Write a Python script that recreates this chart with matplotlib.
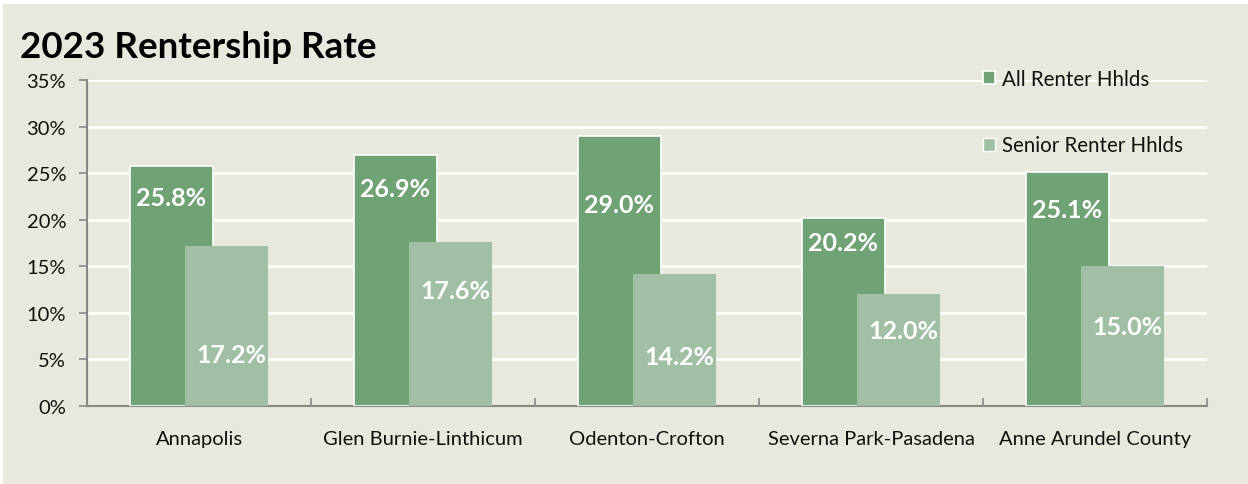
import matplotlib
matplotlib.use("Agg")
import matplotlib.pyplot as plt
from matplotlib.patches import Rectangle
import numpy as np

categories = ["Annapolis", "Glen Burnie-Linthicum", "Odenton-Crofton",
              "Severna Park-Pasadena", "Anne Arundel County"]
all_renter = [25.8, 26.9, 29.0, 20.2, 25.1]
senior_renter = [17.2, 17.6, 14.2, 12.0, 15.0]
series_names = ["All Renter Hhlds", "Senior Renter Hhlds"]
yticks = [0, 5, 10, 15, 20, 25, 30, 35]
title = "2023 Rentership Rate"

# label positions (y in data units, manually placed as in original)
all_label_y = [22.4, 23.3, 21.6, 17.6, 21.1]
senior_label_y = [5.5, 12.4, 5.3, 8.1, 8.5]

plt.rcParams['font.family'] = ['Lato', 'DejaVu Sans']

BG = "#E9E8DE"
DARK = "#6FA275"
LIGHT = "#A1BFA5"
TXT = "#111111"

fig = plt.figure(figsize=(12.48, 4.85), dpi=100, facecolor="white")
fig.patches.append(Rectangle((3/1248, 0), 1 - 3/1248, 1 - 5/485,
                             transform=fig.transFigure, facecolor=BG,
                             edgecolor="none", zorder=-10))

ax = fig.add_axes([87/1248, 1 - 407/485, (1207 - 87)/1248, (407 - 81)/485])
ax.set_facecolor(BG)

x = np.arange(len(categories))
w = 0.37
off = 0.123
ax.bar(x - off, all_renter, width=w, color=DARK, edgecolor="white",
       linewidth=1.2, zorder=3, label=series_names[0])
ax.bar(x + off, senior_renter, width=w, color=LIGHT, edgecolor="none",
       zorder=4, label=series_names[1])

for i in range(len(categories)):
    ax.text(x[i] - off, all_label_y[i], f"{all_renter[i]:.1f}%", color="white",
            fontsize=18, fontweight="bold", ha="center", va="center", zorder=6)
    ax.text(x[i] + off + 0.02, senior_label_y[i], f"{senior_renter[i]:.1f}%",
            color="white", fontsize=18, fontweight="bold", ha="center",
            va="center", zorder=6)

ax.set_xlim(-0.5, len(categories) - 0.5)
ax.set_ylim(0, 35)
ax.set_yticks(yticks)
ax.set_yticklabels([f"{t}%" for t in yticks], fontsize=14.5, color=TXT)
ax.yaxis.grid(True, color="white", linewidth=2, zorder=0)
ax.set_axisbelow(True)

ax.set_xticks(np.arange(len(categories) + 1) - 0.5)
ax.set_xticklabels([])
ax.tick_params(axis="x", which="major", direction="in", length=6,
               color="#888888", width=1.2)
ax.set_xticks(x, minor=True)
ax.set_xticklabels(categories, minor=True, fontsize=14.5, color=TXT)
ax.tick_params(axis="x", which="minor", length=0, pad=17)
ax.tick_params(axis="y", direction="out", length=6, color="#888888",
               width=1.2, pad=9)

for s in ["top", "right"]:
    ax.spines[s].set_visible(False)
for s in ["left", "bottom"]:
    ax.spines[s].set_color("#888888")
    ax.spines[s].set_linewidth(1.5)

fig.text(20/1248, 1 - 47/485, title, fontsize=26.5, fontweight="bold",
         ha="left", va="center", color="black")

leg = ax.legend(loc="upper left", bbox_to_anchor=((964 - 87)/(1207 - 87), 1.09),
                frameon=False, fontsize=14.8, labelspacing=2.25, handlelength=0.6,
                handleheight=0.6, handletextpad=0.35)
for t in leg.get_texts():
    t.set_color(TXT)
for h in leg.legend_handles:
    h.set_edgecolor("white")

fig.savefig("out.png", dpi=100, facecolor=fig.get_facecolor())
